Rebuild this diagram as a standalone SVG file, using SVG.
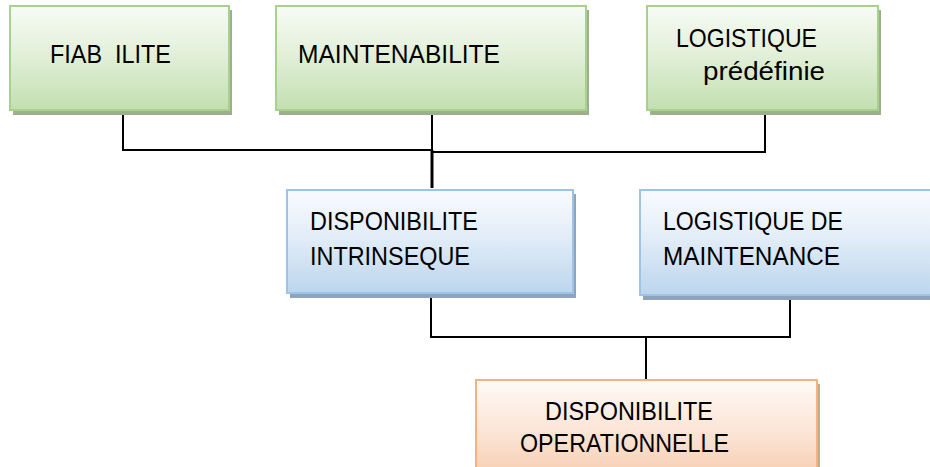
<svg xmlns="http://www.w3.org/2000/svg" width="930" height="467" viewBox="0 0 930 467">
  <defs>
    <linearGradient id="gGreen" x1="0" y1="0" x2="0" y2="1">
      <stop offset="0" stop-color="#f7fbf4"/>
      <stop offset="0.45" stop-color="#e3f0da"/>
      <stop offset="1" stop-color="#c3dfb0"/>
    </linearGradient>
    <linearGradient id="gBlue" x1="0" y1="0" x2="0" y2="1">
      <stop offset="0" stop-color="#f9fbfe"/>
      <stop offset="0.45" stop-color="#e2edf8"/>
      <stop offset="1" stop-color="#bcd5ed"/>
    </linearGradient>
    <linearGradient id="gOrange" x1="0" y1="0" x2="0" y2="1">
      <stop offset="0" stop-color="#fffaf7"/>
      <stop offset="0.5" stop-color="#fbe3d3"/>
      <stop offset="1" stop-color="#f6c7a7"/>
    </linearGradient>
  </defs>
  <style>
    .green .box { fill: url(#gGreen); stroke: #a9d18e; stroke-width: 2; }
    .green .shadow { fill: #9db08e; }
    .blue .box { fill: url(#gBlue); stroke: #9dc3e6; stroke-width: 2; }
    .blue .shadow { fill: #8fa4bb; }
    .orange .box { fill: url(#gOrange); stroke: #f4b183; stroke-width: 2; }
    .orange .shadow { fill: #c8a892; }
    text { font-family: "Liberation Sans", Arial, sans-serif; font-size: 25.5px; fill: #000; }
    #connectors line, #connectors polyline { stroke: #000; stroke-width: 2; fill: none; }
  </style>

  <rect width="930" height="467" fill="#ffffff"/>

  <!-- connectors -->
  <g id="connectors">
    <polyline points="123,110 123,150 432,150"/>
    <line x1="432" y1="110" x2="432" y2="150"/>
    <line x1="432" y1="150" x2="432" y2="188" style="stroke-width:3"/>
    <polyline points="432,152 765,152 765,110"/>
    <polyline points="431,293 431,337 790,337 790,295"/>
    <line x1="646" y1="337" x2="646" y2="379"/>
  </g>

  <!-- top row -->
  <g id="fiabilite" class="green">
    <rect class="shadow" x="13" y="10" width="219" height="105"/>
    <rect class="box" x="10" y="6" width="219" height="104"/>
    <text x="50" y="63" xml:space="preserve" textLength="121" lengthAdjust="spacingAndGlyphs">FIAB  ILITE</text>
  </g>

  <g id="maintenabilite" class="green">
    <rect class="shadow" x="279" y="10" width="310" height="105"/>
    <rect class="box" x="276" y="6" width="310" height="104"/>
    <text x="298" y="63" textLength="202" lengthAdjust="spacingAndGlyphs">MAINTENABILITE</text>
  </g>

  <g id="logistique-predefinie" class="green">
    <rect class="shadow" x="650" y="10" width="231" height="105"/>
    <rect class="box" x="647" y="6" width="231" height="104"/>
    <text x="676" y="47" textLength="141" lengthAdjust="spacingAndGlyphs">LOGISTIQUE</text>
    <text x="703" y="80" textLength="122" lengthAdjust="spacingAndGlyphs">prédéfinie</text>
  </g>

  <!-- middle row -->
  <g id="disponibilite-intrinseque" class="blue">
    <rect class="shadow" x="290" y="194" width="286" height="104"/>
    <rect class="box" x="287" y="190" width="286" height="103"/>
    <text x="310" y="230" textLength="168" lengthAdjust="spacingAndGlyphs">DISPONIBILITE</text>
    <text x="310" y="265" textLength="160" lengthAdjust="spacingAndGlyphs">INTRINSEQUE</text>
  </g>

  <g id="logistique-maintenance" class="blue">
    <rect class="shadow" x="643" y="194" width="300" height="106"/>
    <rect class="box" x="640" y="190" width="300" height="105"/>
    <text x="663" y="230" textLength="180" lengthAdjust="spacingAndGlyphs">LOGISTIQUE DE</text>
    <text x="663" y="265" textLength="177" lengthAdjust="spacingAndGlyphs">MAINTENANCE</text>
  </g>

  <!-- bottom -->
  <g id="disponibilite-operationnelle" class="orange">
    <rect class="shadow" x="479" y="384" width="341" height="110"/>
    <rect class="box" x="476" y="380" width="341" height="110"/>
    <text x="545" y="420" textLength="168" lengthAdjust="spacingAndGlyphs">DISPONIBILITE</text>
    <text x="520" y="452" textLength="209" lengthAdjust="spacingAndGlyphs">OPERATIONNELLE</text>
  </g>
</svg>
